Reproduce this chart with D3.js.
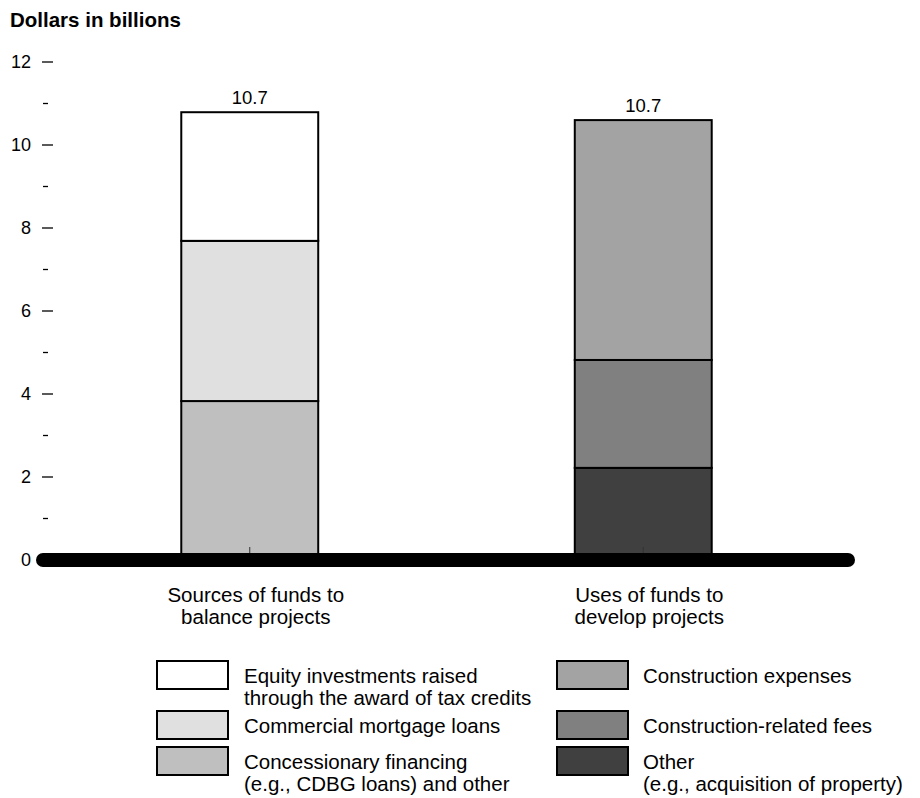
<!DOCTYPE html>
<html>
<head>
<meta charset="utf-8">
<script src="https://cdn.jsdelivr.net/npm/d3@7"></script>
<style>
  body { margin: 0; background: #fff; }
  svg { display: block; font-family: "Liberation Sans", Arial, Helvetica, sans-serif; }
</style>
</head>
<body>
<div id="chart"></div>
<script>
// data (dollars in billions)
let categories = ["sources", "uses"];
let categoryLabels = [["Sources of funds to", "balance projects"], ["Uses of funds to", "develop projects"]];
let totalLabels = ["10.7", "10.7"];

// stacked from bottom to top
let sourcesNames = ["Concessionary financing", "Commercial mortgage loans", "Equity investments"];
let sourcesValues = [3.83, 3.86, 3.1];
let usesNames = ["Other", "Construction-related fees", "Construction expenses"];
let usesValues = [2.22, 2.6, 5.78];

let majorTicks = [0, 2, 4, 6, 8, 10, 12];
let minorTicks = [1, 3, 5, 7, 9, 11];

// legend, top to bottom per column
let legendLeft = [
    ["Equity investments raised", "through the award of tax credits"],
    ["Commercial mortgage loans"],
    ["Concessionary financing", "(e.g., CDBG loans) and other"]
];
let legendRight = [
    ["Construction expenses"],
    ["Construction-related fees"],
    ["Other", "(e.g., acquisition of property)"]
];

let sourcesColors = ["#bfbfbf", "#e0e0e0", "#ffffff"];
let usesColors = ["#404040", "#808080", "#a3a3a3"];

let width = 920;
let height = 798;

let svg = d3.select("#chart")
    .append("svg")
    .attr("width", width)
    .attr("height", height);

let x = d3.scaleBand()
    .domain(categories)
    .range([53, 840])
    .paddingInner(0.652)
    .paddingOuter(0.326);

let y = d3.scaleLinear()
    .domain([0, 12])
    .range([560, 62]);

// title
svg.append("text")
    .attr("x", 10)
    .attr("y", 26.5)
    .attr("font-size", "20.5px")
    .attr("font-weight", "bold")
    .text("Dollars in billions");

// y axis: major ticks with labels, minor ticks without
let yAxis = svg.append("g");

yAxis.selectAll("line.major")
    .data(majorTicks)
    .join("line")
        .attr("class", "major")
        .attr("x1", 42)
        .attr("x2", 53)
        .attr("y1", d => y(d))
        .attr("y2", d => y(d))
        .attr("stroke", "#000")
        .attr("stroke-width", 1.3);

yAxis.selectAll("line.minor")
    .data(minorTicks)
    .join("line")
        .attr("class", "minor")
        .attr("x1", 43)
        .attr("x2", 48)
        .attr("y1", d => y(d))
        .attr("y2", d => y(d))
        .attr("stroke", "#000")
        .attr("stroke-width", 1.3);

yAxis.selectAll("text")
    .data(majorTicks)
    .join("text")
        .attr("x", 31)
        .attr("y", d => y(d))
        .attr("dy", "0.35em")
        .attr("text-anchor", "end")
        .attr("font-size", "18px")
        .text(d => d);

// stacked bars
let stacks = [
    {cat: "sources", values: sourcesValues, colors: sourcesColors},
    {cat: "uses", values: usesValues, colors: usesColors}
];

stacks.forEach(s => {
    let tops = d3.cumsum(s.values);
    let segs = s.values.map((v, i) => ({y0: tops[i] - v, y1: tops[i], color: s.colors[i]}));
    svg.append("g")
        .selectAll("rect")
        .data(segs)
        .join("rect")
            .attr("x", x(s.cat))
            .attr("width", x.bandwidth())
            .attr("y", d => y(d.y1))
            .attr("height", d => y(d.y0) - y(d.y1))
            .attr("fill", d => d.color)
            .attr("stroke", "#000")
            .attr("stroke-width", 2);
});

// total labels above bars
svg.append("g")
    .selectAll("text")
    .data(stacks)
    .join("text")
        .attr("x", d => x(d.cat) + x.bandwidth() / 2)
        .attr("y", d => y(d3.sum(d.values)) - 8)
        .attr("text-anchor", "middle")
        .attr("font-size", "18.5px")
        .text((d, i) => totalLabels[i]);

// small category ticks
svg.append("g")
    .selectAll("line")
    .data(categories)
    .join("line")
        .attr("x1", d => x(d) + x.bandwidth() / 2)
        .attr("x2", d => x(d) + x.bandwidth() / 2)
        .attr("y1", y(0) - 13)
        .attr("y2", y(0) - 6)
        .attr("stroke", "#333")
        .attr("stroke-width", 1);

// thick baseline
svg.append("line")
    .attr("x1", 43)
    .attr("x2", 848)
    .attr("y1", y(0))
    .attr("y2", y(0))
    .attr("stroke", "#000")
    .attr("stroke-width", 14)
    .attr("stroke-linecap", "round");

// category labels
let catText = svg.append("g")
    .selectAll("text")
    .data(categories)
    .join("text")
        .attr("x", d => x(d) + x.bandwidth() / 2 + 6)
        .attr("y", 602)
        .attr("text-anchor", "middle")
        .attr("font-size", "20.5px");

catText.selectAll("tspan")
    .data((d, i) => categoryLabels[i])
    .join("tspan")
        .attr("x", function() { return this.parentNode.getAttribute("x"); })
        .attr("dy", (d, i) => i === 0 ? 0 : 22)
        .text(d => d);

// legend
let legendRowY = [661, 711, 747];

function drawLegend(entries, colors, boxX, textX) {
    let g = svg.append("g");
    entries.forEach((lines, i) => {
        let top = legendRowY[i];
        g.append("rect")
            .attr("x", boxX)
            .attr("y", top)
            .attr("width", 71)
            .attr("height", 28)
            .attr("fill", colors[i])
            .attr("stroke", "#000")
            .attr("stroke-width", 2);
        let t = g.append("text")
            .attr("x", textX)
            .attr("y", top + 21.5)
            .attr("font-size", "20.5px");
        t.selectAll("tspan")
            .data(lines)
            .join("tspan")
                .attr("x", textX)
                .attr("dy", (d, j) => j === 0 ? 0 : 22)
                .text(d => d);
    });
}

drawLegend(legendLeft, sourcesColors.slice().reverse(), 157, 244);
drawLegend(legendRight, usesColors.slice().reverse(), 557, 643);
</script>
</body>
</html>
